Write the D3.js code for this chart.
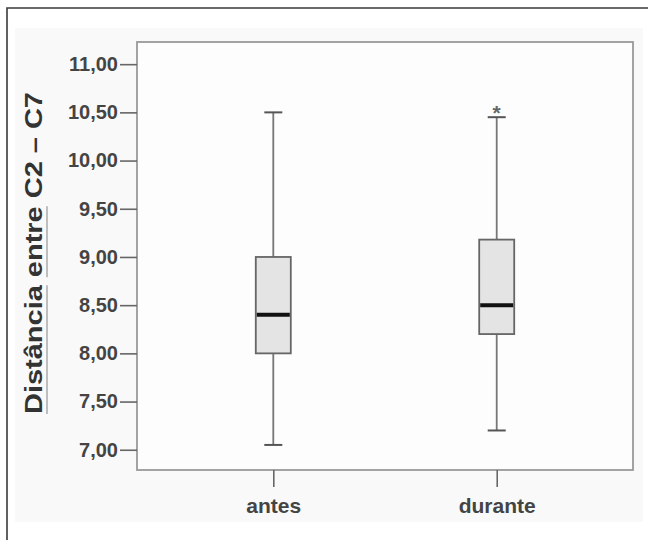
<!DOCTYPE html>
<html>
<head>
<meta charset="utf-8">
<script src="https://cdn.jsdelivr.net/npm/d3@7"></script>
<style>
  body { margin: 0; background: #fff; }
  svg { display: block; font-family: "Liberation Sans", Arial, sans-serif; }
</style>
</head>
<body>
<svg width="648" height="540"></svg>
<script>
// Data
const groups = ["antes", "durante"];
const whiskerLow = [7.05, 7.20];
const q1 = [8.00, 8.20];
const medians = [8.40, 8.50];
const q3 = [9.00, 9.18];
const whiskerHigh = [10.50, 10.45];
const outliers = [[], [10.56]];
const yTicks = [7.0, 7.5, 8.0, 8.5, 9.0, 9.5, 10.0, 10.5, 11.0];
const yTitle = ["Distância", " ", "entre", " C2 – C7"];

const svg = d3.select("svg"),
    width = +svg.attr("width"),
    height = +svg.attr("height");

const plot = { left: 137, right: 633, top: 42, bottom: 470 };

// outer page frame and faint background
svg.append("rect")
    .attr("x", 15).attr("y", 28)
    .attr("width", 628).attr("height", 494)
    .attr("fill", "#f9f9f9");
svg.append("path")
    .attr("d", `M7,${height} V8 H${width}`)
    .attr("fill", "none")
    .attr("stroke", "#3a3a3a")
    .attr("stroke-width", 1.6);

// scales
const x = d3.scalePoint().domain(groups).range([plot.left, plot.right]).padding(0.61);
const y = d3.scaleLinear().domain([6.79, 11.23]).range([plot.bottom, plot.top]);

// plot frame
svg.append("rect")
    .attr("x", plot.left).attr("y", plot.top)
    .attr("width", plot.right - plot.left).attr("height", plot.bottom - plot.top)
    .attr("fill", "#fdfdfd")
    .attr("stroke", "#999")
    .attr("stroke-width", 1.8);

// axes
const fmt = d => d3.format(".2f")(d).replace(".", ",");
const yAxis = svg.append("g")
    .attr("transform", `translate(${plot.left},0)`)
    .call(d3.axisLeft(y).tickValues(yTicks).tickFormat(fmt).tickSize(17).tickPadding(2));
const xAxis = svg.append("g")
    .attr("transform", `translate(0,${plot.bottom})`)
    .call(d3.axisBottom(x).tickSize(17).tickPadding(8));

[yAxis, xAxis].forEach(g => {
    g.select(".domain").remove();
    g.selectAll(".tick line").attr("stroke", "#666").attr("stroke-width", 1.6);
    g.selectAll(".tick text")
        .attr("fill", "#444")
        .attr("font-family", "'Liberation Sans', Arial, sans-serif")
        .attr("font-weight", "bold");
});
yAxis.selectAll(".tick text").attr("font-size", 20);
xAxis.selectAll(".tick text").attr("font-size", 21).attr("dy", "0.85em");

// boxes
const boxW = 35, capW = 18;
const boxes = svg.append("g").selectAll("g")
    .data(groups.map((g, i) => ({
        g, lo: whiskerLow[i], q1: q1[i], med: medians[i], q3: q3[i], hi: whiskerHigh[i], out: outliers[i]
    })))
    .join("g");

boxes.append("line")
    .attr("x1", d => x(d.g)).attr("x2", d => x(d.g))
    .attr("y1", d => y(d.lo)).attr("y2", d => y(d.hi))
    .attr("stroke", "#777").attr("stroke-width", 1.8);

boxes.selectAll(".cap")
    .data(d => [d.lo, d.hi].map(v => ({ g: d.g, v })))
    .join("line")
    .attr("class", "cap")
    .attr("x1", d => x(d.g) - capW / 2).attr("x2", d => x(d.g) + capW / 2)
    .attr("y1", d => y(d.v)).attr("y2", d => y(d.v))
    .attr("stroke", "#555").attr("stroke-width", 2);

boxes.append("rect")
    .attr("x", d => x(d.g) - boxW / 2)
    .attr("y", d => y(d.q3))
    .attr("width", boxW)
    .attr("height", d => y(d.q1) - y(d.q3))
    .attr("fill", "#e4e4e4")
    .attr("stroke", "#666")
    .attr("stroke-width", 1.8);

boxes.append("line")
    .attr("x1", d => x(d.g) - boxW / 2 + 1).attr("x2", d => x(d.g) + boxW / 2 - 1)
    .attr("y1", d => y(d.med)).attr("y2", d => y(d.med))
    .attr("stroke", "#111").attr("stroke-width", 4);

boxes.selectAll(".out")
    .data(d => d.out.map(v => ({ g: d.g, v })))
    .join("text")
    .attr("class", "out")
    .attr("x", d => x(d.g))
    .attr("y", d => y(d.v))
    .attr("dy", "0.62em")
    .attr("text-anchor", "middle")
    .attr("font-size", 21)
    .attr("font-weight", "bold")
    .attr("fill", "#666")
    .text("*");

// y title, rotated, with the grey underlines under the first two words
const titleG = svg.append("g")
    .attr("transform", `translate(42,${(plot.top + plot.bottom) / 2 - 3}) rotate(-90)`);
const title = titleG.append("text")
    .attr("text-anchor", "middle")
    .attr("font-size", 23)
    .attr("font-weight", "bold")
    .attr("fill", "#333")
    .attr("textLength", 322)
    .attr("lengthAdjust", "spacingAndGlyphs");
title.selectAll("tspan").data(yTitle).join("tspan").text(d => d);

const node = title.node();
[0, 2].forEach(idx => {
    const start = yTitle.slice(0, idx).join("").length;
    const end = start + yTitle[idx].length - 1;
    const a = node.getStartPositionOfChar(start).x;
    const b = node.getEndPositionOfChar(end).x;
    titleG.append("line")
        .attr("x1", a).attr("x2", b)
        .attr("y1", 5).attr("y2", 5)
        .attr("stroke", "#aaa")
        .attr("stroke-width", 1.5);
});
</script>
</body>
</html>
